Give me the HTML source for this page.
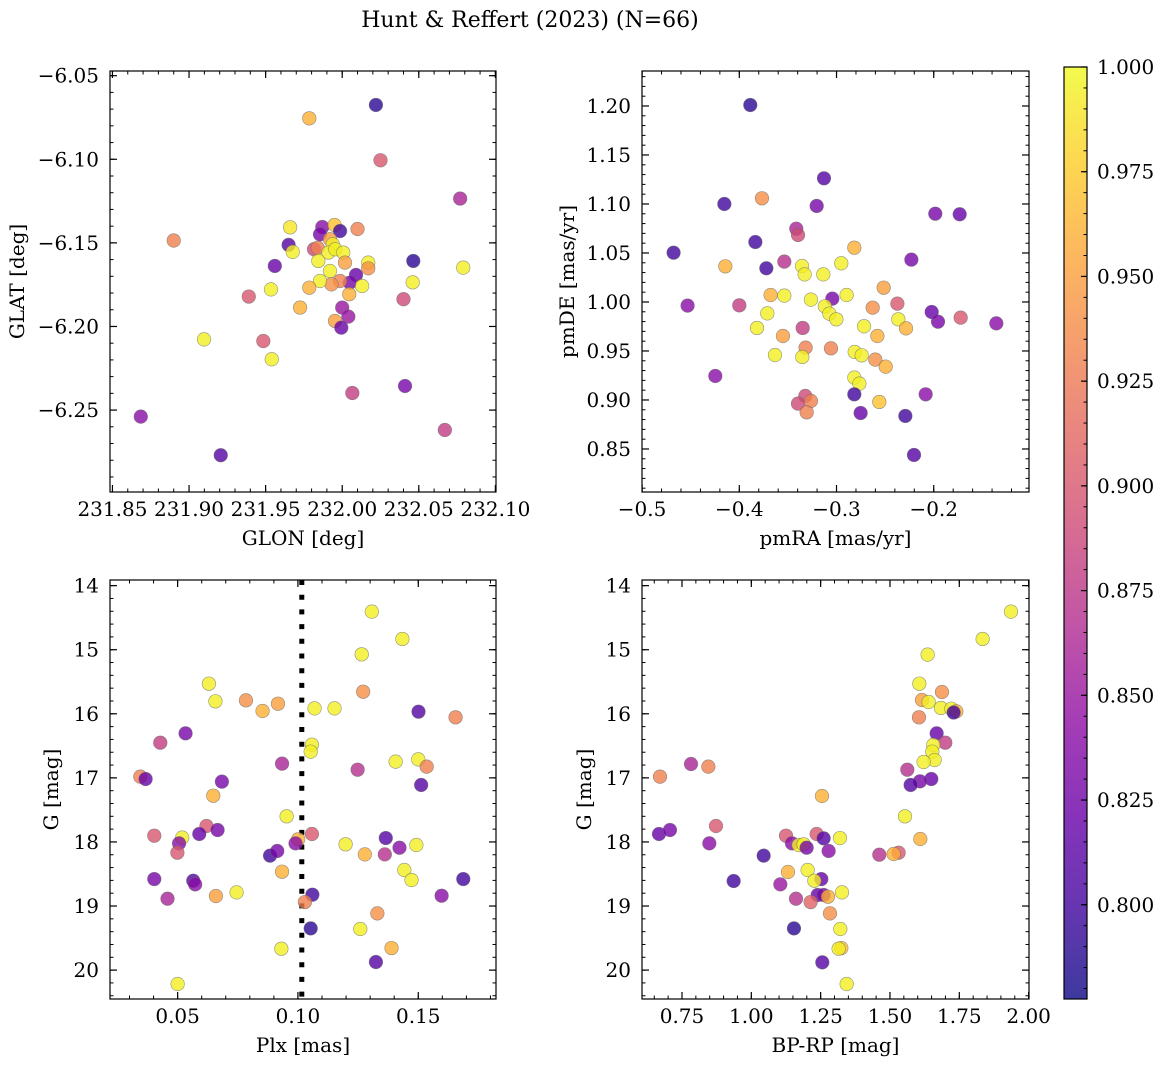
<!DOCTYPE html>
<html><head><meta charset="utf-8">
<style>
html,body{margin:0;padding:0;background:#fff;}
svg{display:block;font-family:"DejaVu Serif","Liberation Serif",serif;}
</style></head>
<body>
<svg id="fig" width="1161" height="1067" viewBox="0 0 1161 1067" xmlns="http://www.w3.org/2000/svg">
<text x="530" y="27" text-anchor="middle" font-size="22">Hunt &amp; Reffert (2023) (N=66)</text>
<defs>
<linearGradient id="cbgrad" x1="0" y1="1" x2="0" y2="0">
<stop offset="0" stop-color="#0d0887"/><stop offset="0.1" stop-color="#41049d"/><stop offset="0.2" stop-color="#6a00a8"/><stop offset="0.3" stop-color="#8f0da4"/><stop offset="0.4" stop-color="#b12a90"/><stop offset="0.5" stop-color="#cc4778"/><stop offset="0.6" stop-color="#e16462"/><stop offset="0.7" stop-color="#f2844b"/><stop offset="0.8" stop-color="#fca636"/><stop offset="0.9" stop-color="#fcce25"/><stop offset="1" stop-color="#f0f921"/>
</linearGradient>
</defs>
</svg>
<script>
// ---- Panel 1: GLON / GLAT ----
const p1x=[232.022,231.9785,232.025,232.077,231.890,231.966,232.010,231.987,231.995,231.9986,231.9855,231.965,231.9677,231.9816,231.984,231.992,231.9938,231.991,231.9955,232.0007,231.9844,232.0018,232.017,232.017,231.956,232.0464,232.079,231.992,232.009,232.005,231.9986,231.993,231.9855,232.013,232.046,231.9785,231.9535,231.939,232.0046,232.040,231.9725,232.000,232.004,231.9953,231.9994,231.9098,231.9485,231.954,232.041,232.0066,231.8685,232.067,231.9207];
const p1y=[-6.0675,-6.0755,-6.1006,-6.1235,-6.1486,-6.1407,-6.1417,-6.1405,-6.1393,-6.1429,-6.1449,-6.1512,-6.1554,-6.1538,-6.153,-6.1478,-6.1508,-6.1558,-6.1538,-6.1558,-6.1608,-6.1618,-6.1618,-6.1652,-6.1638,-6.1608,-6.1648,-6.1668,-6.1692,-6.1738,-6.1728,-6.1748,-6.1728,-6.1758,-6.1736,-6.1768,-6.1778,-6.1821,-6.1807,-6.1837,-6.1887,-6.1887,-6.1941,-6.1967,-6.2007,-6.2077,-6.2087,-6.2196,-6.2356,-6.2398,-6.2539,-6.2619,-6.277];
const p1c=[0.79,0.96,0.90,0.86,0.93,0.99,0.93,0.84,0.97,0.80,0.83,0.81,0.995,0.89,0.93,0.95,0.995,0.995,0.995,0.995,0.995,0.95,0.995,0.94,0.82,0.79,0.995,0.995,0.82,0.83,0.93,0.94,0.995,0.995,0.995,0.96,0.995,0.90,0.96,0.89,0.96,0.85,0.85,0.95,0.82,0.995,0.90,0.995,0.83,0.88,0.84,0.88,0.81];
// ---- Panel 2: pmRA / pmDE ----
const p2x=[-0.3887,-0.3129,-0.3767,-0.4154,-0.3204,-0.1984,-0.1733,-0.3414,-0.3396,-0.3835,-0.2817,-0.4676,-0.223,-0.3537,-0.2951,-0.4144,-0.3722,-0.3355,-0.3328,-0.3136,-0.2515,-0.3678,-0.3537,-0.2896,-0.3263,-0.3043,-0.4532,-0.40,-0.2374,-0.2628,-0.312,-0.3074,-0.2021,-0.3002,-0.3712,-0.2364,-0.1956,-0.1723,-0.1356,-0.2285,-0.3348,-0.3818,-0.2717,-0.258,-0.3551,-0.3318,-0.3057,-0.2813,-0.2741,-0.3633,-0.3352,-0.2601,-0.2494,-0.4247,-0.2817,-0.2765,-0.2817,-0.2083,-0.3321,-0.3396,-0.3263,-0.256,-0.3307,-0.2752,-0.2292,-0.2203];
const p2y=[1.201,1.1262,1.1058,1.100,1.098,1.0901,1.0895,1.0748,1.0684,1.0612,1.0554,1.0503,1.0432,1.0412,1.0395,1.0364,1.0344,1.0367,1.0282,1.0282,1.0146,1.0071,1.0065,1.0071,1.0024,1.0034,0.9963,0.9966,0.9983,0.9942,0.9956,0.9881,0.9898,0.9823,0.9884,0.9823,0.9799,0.984,0.9782,0.9731,0.9735,0.9735,0.9752,0.9653,0.9653,0.9534,0.9527,0.949,0.9456,0.9459,0.9439,0.9412,0.934,0.9245,0.9228,0.9167,0.9058,0.9058,0.9041,0.8963,0.899,0.898,0.8874,0.8867,0.8837,0.8439];
const p2c=[0.79,0.81,0.94,0.80,0.83,0.83,0.82,0.86,0.89,0.80,0.96,0.80,0.83,0.87,0.995,0.96,0.80,0.995,0.995,0.995,0.95,0.96,0.995,0.995,0.995,0.83,0.84,0.88,0.90,0.94,0.995,0.995,0.82,0.995,0.995,0.995,0.83,0.90,0.84,0.96,0.88,0.995,0.995,0.96,0.95,0.93,0.93,0.995,0.995,0.995,0.995,0.94,0.96,0.84,0.995,0.995,0.80,0.84,0.89,0.89,0.93,0.97,0.93,0.82,0.80,0.81];
// ---- Panel 3: Plx / G ----
const p3x=[0.1307,0.1434,0.1265,0.0630,0.0657,0.0784,0.0853,0.0917,0.1271,0.1069,0.1152,0.1501,0.1655,0.0533,0.0428,0.1058,0.1053,0.0934,0.1406,0.15,0.1535,0.1248,0.0345,0.0367,0.0684,0.1512,0.0648,0.0953,0.0403,0.062,0.059,0.0666,0.0519,0.0506,0.0499,0.1058,0.1001,0.099,0.1365,0.1198,0.1422,0.1492,0.1278,0.1361,0.0884,0.0914,0.0934,0.1442,0.1472,0.0403,0.0565,0.0573,0.1687,0.0458,0.0659,0.0745,0.106,0.1029,0.1597,0.133,0.1053,0.1259,0.0931,0.1389,0.1324,0.05];
const p3y=[14.406,14.832,15.072,15.530,15.805,15.79,15.956,15.842,15.655,15.915,15.915,15.967,16.055,16.305,16.451,16.482,16.591,16.778,16.747,16.711,16.825,16.872,16.981,17.018,17.059,17.111,17.278,17.60,17.902,17.751,17.876,17.814,17.933,18.022,18.168,17.876,17.959,18.022,17.939,18.037,18.09,18.048,18.194,18.194,18.214,18.141,18.464,18.438,18.594,18.579,18.605,18.662,18.579,18.886,18.844,18.787,18.823,18.938,18.839,19.115,19.349,19.359,19.666,19.656,19.874,20.217];
const p3c=[0.995,0.995,0.995,0.995,0.995,0.94,0.96,0.95,0.94,0.995,0.995,0.81,0.93,0.83,0.88,0.995,0.995,0.86,0.995,0.995,0.93,0.87,0.93,0.82,0.83,0.81,0.96,0.995,0.90,0.90,0.82,0.83,0.995,0.84,0.90,0.90,0.96,0.84,0.81,0.995,0.84,0.995,0.96,0.87,0.80,0.83,0.96,0.995,0.995,0.83,0.81,0.84,0.80,0.86,0.95,0.995,0.80,0.93,0.84,0.94,0.79,0.995,0.995,0.96,0.81,0.995];
const plxLine=0.1016;
// ---- Panel 4: BP-RP / G ----
const p4x=[1.9363,1.8341,1.6358,1.6058,1.6875,1.6154,1.6394,1.6839,1.7212,1.7392,1.7296,1.6046,1.6683,1.6995,1.6562,1.6526,1.6611,1.6214,0.7825,0.845,1.5625,0.6707,1.649,1.6082,1.5745,1.2548,1.5541,0.8726,0.6671,0.7067,1.125,1.2356,1.2608,1.3197,1.6094,1.1466,1.1707,1.1887,1.1995,0.8486,1.2788,1.0445,1.4615,1.5312,1.5132,1.2031,1.1322,0.9363,1.2524,1.2272,1.1046,1.3269,1.2392,1.2608,1.2764,1.1611,1.2139,1.2837,1.3209,1.1538,1.3245,1.3149,1.256,1.3438];
const p4y=[14.406,14.832,15.077,15.53,15.66,15.785,15.816,15.909,15.92,15.962,15.98,16.055,16.305,16.451,16.487,16.591,16.721,16.752,16.784,16.825,16.872,16.981,17.018,17.054,17.111,17.283,17.60,17.751,17.876,17.814,17.902,17.876,17.944,17.939,17.954,18.022,18.048,18.037,18.09,18.022,18.141,18.214,18.199,18.168,18.188,18.438,18.469,18.61,18.579,18.605,18.662,18.787,18.828,18.828,18.854,18.886,18.938,19.115,19.359,19.349,19.656,19.666,19.879,20.217];
const p4c=[0.995,0.995,0.995,0.995,0.94,0.95,0.995,0.995,0.995,0.96,0.80,0.93,0.82,0.88,0.995,0.995,0.995,0.995,0.86,0.93,0.87,0.93,0.82,0.83,0.81,0.96,0.995,0.90,0.82,0.83,0.90,0.90,0.81,0.995,0.96,0.84,0.995,0.995,0.83,0.84,0.84,0.80,0.87,0.90,0.96,0.995,0.96,0.80,0.82,0.995,0.85,0.995,0.82,0.83,0.96,0.87,0.91,0.94,0.995,0.79,0.97,0.995,0.81,0.995];
// colorbar
const cbTicks=[0.800,0.825,0.850,0.875,0.900,0.925,0.950,0.975,1.000];
const cbMin=0.7775, cbMax=1.0;

const NS='http://www.w3.org/2000/svg';
const svg=document.getElementById('fig');
const FS=20;
function el(tag,attrs,parent){const e=document.createElementNS(NS,tag);for(const k in attrs)e.setAttribute(k,attrs[k]);(parent||svg).appendChild(e);return e;}
const stops=[[13,8,135],[65,4,157],[106,0,168],[143,13,164],[177,42,144],[204,71,120],[225,100,98],[242,132,75],[252,166,54],[252,206,37],[240,249,33]];
function plasma(v){let t=(v-cbMin)/(cbMax-cbMin);t=Math.max(0,Math.min(1,t))*10;const i=Math.min(9,Math.floor(t)),f=t-i;const a=stops[i],b=stops[i+1];return 'rgb('+a.map((x,k)=>Math.round(x+(b[k]-x)*f)).join(',')+')';}
function fmtMinus(s){return s.replace('-','\u2212');}

function panel(o){
  const g=el('g',{});
  
  
  const X=v=>o.L+(v-o.xlim[0])/(o.xlim[1]-o.xlim[0])*(o.R-o.L);
  const Y=v=>o.T+(v-o.ylim[0])/(o.ylim[1]-o.ylim[0])*(o.B-o.T);
  if(o.vline!==undefined){
    const ln=el('line',{x1:X(o.vline),x2:X(o.vline),y1:o.T,y2:o.B,stroke:'#000','stroke-width':5,'stroke-dasharray':'5 9.7'},g);
    
    
  }
  for(let i=0;i<o.x.length;i++){
    const c=el('circle',{cx:X(o.x[i]),cy:Y(o.y[i]),r:6.8,fill:plasma(o.c[i]),'fill-opacity':0.8,stroke:'#6a6a6a','stroke-opacity':0.7,'stroke-width':0.6},g);
    
    
  }
  const fr=el('rect',{x:o.L,y:o.T,width:o.R-o.L,height:o.B-o.T,fill:'none',stroke:'#000','stroke-width':1.2},g);
  
  
  const eps=1e-9;
  let xs=Math.ceil((Math.min(...o.xlim)-eps)/o.xminor);
  for(let k=xs;k*o.xminor<=Math.max(...o.xlim)+eps;k++){const px=X(k*o.xminor);
    el('line',{x1:px,x2:px,y1:o.B,y2:o.B-3.5,stroke:'#000','stroke-width':1},g);
    el('line',{x1:px,x2:px,y1:o.T,y2:o.T+3.5,stroke:'#000','stroke-width':1},g);}
  let ys=Math.ceil((Math.min(...o.ylim)-eps)/o.yminor);
  for(let k=ys;k*o.yminor<=Math.max(...o.ylim)+eps;k++){const py=Y(k*o.yminor);
    el('line',{x1:o.L,x2:o.L+3.5,y1:py,y2:py,stroke:'#000','stroke-width':1},g);
    el('line',{x1:o.R,x2:o.R-3.5,y1:py,y2:py,stroke:'#000','stroke-width':1},g);}
  o.xt.forEach(v=>{const px=X(v);
    el('line',{x1:px,x2:px,y1:o.B,y2:o.B-7,stroke:'#000','stroke-width':1.2},g);
    el('line',{x1:px,x2:px,y1:o.T,y2:o.T+7,stroke:'#000','stroke-width':1.2},g);
    const t=el('text',{x:px,y:o.B+24,'text-anchor':'middle','font-size':FS},g);
    t.textContent=fmtMinus(v.toFixed(o.xd));
    
    });
  o.yt.forEach(v=>{const py=Y(v);
    el('line',{x1:o.L,x2:o.L+7,y1:py,y2:py,stroke:'#000','stroke-width':1.2},g);
    el('line',{x1:o.R,x2:o.R-7,y1:py,y2:py,stroke:'#000','stroke-width':1.2},g);
    const t=el('text',{x:o.L-11,y:py+7,'text-anchor':'end','font-size':FS},g);
    t.textContent=fmtMinus(v.toFixed(o.yd));
    
    });
  const xl=el('text',{x:(o.L+o.R)/2,y:o.B+53,'text-anchor':'middle','font-size':FS},g);
  xl.textContent=o.xlabel;
  
  
  const yc=(o.T+o.B)/2;
  const yl=el('text',{x:o.ylx,y:yc,'text-anchor':'middle','font-size':FS,transform:'rotate(-90 '+o.ylx+' '+yc+')'},g);
  yl.textContent=o.ylabel;
  
  
}

panel({name:'glon-glat-panel',L:110,R:496,T:71,B:492,xlim:[231.8484,232.1004],ylim:[-6.0472,-6.299],x:p1x,y:p1y,c:p1c,
  xt:[231.85,231.90,231.95,232.00,232.05,232.10],yt:[-6.05,-6.10,-6.15,-6.20,-6.25],xd:2,yd:2,xminor:0.01,yminor:0.01,
  xlabel:'GLON [deg]',ylabel:'GLAT [deg]',ylx:24});
panel({name:'proper-motion-panel',L:642,R:1029,T:71,B:492,xlim:[-0.5001,-0.102],ylim:[1.2357,0.8061],x:p2x,y:p2y,c:p2c,
  xt:[-0.5,-0.4,-0.3,-0.2],yt:[0.85,0.90,0.95,1.00,1.05,1.10,1.15,1.20],xd:1,yd:2,xminor:0.02,yminor:0.01,
  xlabel:'pmRA [mas/yr]',ylabel:'pmDE [mas/yr]',ylx:574});
panel({name:'parallax-magnitude-panel',L:110,R:496,T:580,B:999,xlim:[0.0219,0.1823],ylim:[13.912,20.451],x:p3x,y:p3y,c:p3c,
  xt:[0.05,0.10,0.15],yt:[14,15,16,17,18,19,20],xd:2,yd:0,xminor:0.01,yminor:0.2,
  xlabel:'Plx [mas]',ylabel:'G [mag]',ylx:58,vline:plxLine});
panel({name:'color-magnitude-panel',L:642,R:1029,T:580,B:999,xlim:[0.6058,2.0013],ylim:[13.912,20.451],x:p4x,y:p4y,c:p4c,
  xt:[0.75,1.00,1.25,1.50,1.75,2.00],yt:[14,15,16,17,18,19,20],xd:2,yd:0,xminor:0.05,yminor:0.2,
  xlabel:'BP-RP [mag]',ylabel:'G [mag]',ylx:591});

(function(){
  const g=el('g',{});
  
  
  const L=1064,R=1087,T=67,B=999;
  const CY=v=>B-(v-cbMin)/(cbMax-cbMin)*(B-T);
  el('rect',{x:L,y:T,width:R-L,height:B-T,fill:'url(#cbgrad)','fill-opacity':0.8},g);
  el('rect',{x:L,y:T,width:R-L,height:B-T,fill:'none',stroke:'#000','stroke-width':1.2},g);
  for(let k=Math.ceil(cbMin/0.005);k*0.005<=cbMax+1e-9;k++){const py=CY(k*0.005);
    el('line',{x1:R,x2:R-3.5,y1:py,y2:py,stroke:'#000','stroke-width':1},g);}
  cbTicks.forEach(v=>{const py=CY(v);
    el('line',{x1:R,x2:R-6,y1:py,y2:py,stroke:'#000','stroke-width':1.2},g);
    const t=el('text',{x:R+10,y:py+7,'font-size':FS},g);
    t.textContent=v.toFixed(3);
    
    });
})();
</script>
</body></html>
